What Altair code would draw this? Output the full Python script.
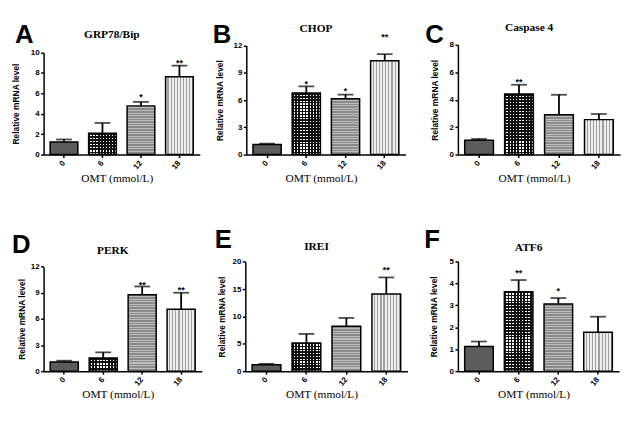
import altair as alt
import pandas as pd

doses = ["0", "6", "12", "18"]
letters = ["A", "B", "C", "D", "E", "F"]
genes = ["GRP78/Bip", "CHOP", "Caspase 4", "PERK", "IREI", "ATF6"]

grp78_mean = [1.23, 2.10, 4.77, 7.62]
grp78_upper = [1.48, 3.10, 5.16, 8.71]
chop_mean = [1.10, 6.77, 6.15, 10.32]
chop_upper = [1.20, 7.50, 6.60, 11.05]
casp4_mean = [1.04, 4.41, 2.91, 2.55]
casp4_upper = [1.14, 5.09, 4.36, 2.96]
perk_mean = [1.06, 1.51, 8.78, 7.12]
perk_upper = [1.20, 2.16, 9.73, 9.01]
ire1_mean = [1.15, 5.17, 8.20, 14.10]
ire1_upper = [1.34, 6.81, 9.73, 17.14]
atf6_mean = [1.12, 3.62, 3.06, 1.77]
atf6_upper = [1.35, 4.15, 3.33, 2.48]

grp78_stars = ["", "", "*", "**"]
chop_stars = ["", "*", "*", "**"]
casp4_stars = ["", "**", "", ""]
perk_stars = ["", "", "**", "**"]
ire1_stars = ["", "", "", "**"]
atf6_stars = ["", "**", "*", ""]

# height (in data units) at which each significance mark sits
grp78_star_y = [None, None, 5.81, 9.13]
chop_star_y = [None, 7.98, 7.21, 13.17]
casp4_star_y = [None, 5.45, None, None]
perk_star_y = [None, None, 10.15, 9.58]
ire1_star_y = [None, None, None, 18.8]
atf6_star_y = [None, 4.58, 3.74, None]

y_max = [10, 12, 8, 12, 20, 5]
y_ticks = [[0, 2, 4, 6, 8, 10], [0, 3, 6, 9, 12], [0, 2, 4, 6, 8],
           [0, 3, 6, 9, 12], [0, 5, 10, 15, 20], [0, 1, 2, 3, 4, 5]]

means = [grp78_mean, chop_mean, casp4_mean, perk_mean, ire1_mean, atf6_mean]
uppers = [grp78_upper, chop_upper, casp4_upper, perk_upper, ire1_upper, atf6_upper]
stars = [grp78_stars, chop_stars, casp4_stars, perk_stars, ire1_stars, atf6_stars]
star_levels = [grp78_star_y, chop_star_y, casp4_star_y, perk_star_y, ire1_star_y, atf6_star_y]

# ---- styling ----
widths = [158, 161, 164, 160, 164, 163]
H = 111
range_top = [7.7, 0.7, 0, 5.4, 0.4, 0]
letter_dx = [-29, -34, -33, -32, -31, -34]
letter_dy = [-23, -23, -23, -29, -35, -35]
title_dy = [-6.5, -12.5, -13.5, -7.3, -11.3, -10.8]
ytitle_pad = [7, 6, 3, 1, 3.5, 3.5]
spacers = {3: (-34, -35)}


def grad(c1, c2, n, duty, vertical):
    n = max(1, int(n))
    stops = []
    for k in range(n):
        a = round(k / n, 4)
        m = round((k + duty) / n, 4)
        b = round((k + 1) / n, 4)
        stops += [alt.GradientStop(offset=a, color=c1), alt.GradientStop(offset=m, color=c1),
                  alt.GradientStop(offset=m, color=c2), alt.GradientStop(offset=b, color=c2)]
    if vertical:
        return alt.LinearGradient(gradient="linear", stops=stops, x1=0, y1=0, x2=1, y2=0)
    return alt.LinearGradient(gradient="linear", stops=stops, x1=0, y1=0, x2=0, y2=1)


def panel(i):
    df = pd.DataFrame({"dose": doses, "mean": means[i], "upper": uppers[i],
                       "star": stars[i], "star_y": star_levels[i]})
    W, ymax, top = widths[i], y_max[i], range_top[i]
    xenc = alt.X("dose:N", sort=doses,
                 scale=alt.Scale(domain=doses, paddingInner=0.28, paddingOuter=0.17),
                 axis=alt.Axis(title="OMT (mmol/L)", labelAngle=-50, labelAlign="right",
                               labelBaseline="middle", labelPadding=4,
                               titleFont="Liberation Serif", titleFontSize=11.5,
                               titleFontWeight="normal", titlePadding=4, titleX=W / 2 - 5,
                               minExtent=14, maxExtent=14))
    yscale = alt.Scale(domain=[0, ymax], range=[H, top], nice=False, zero=True)
    yaxis = alt.Axis(values=y_ticks[i], title="Relative mRNA level",
                     titleFont="Liberation Sans", titleFontSize=8.5, titleFontWeight="bold",
                     titlePadding=ytitle_pad[i], minExtent=16, maxExtent=16, labelPadding=1.5)

    def Y(field):
        return alt.Y(field, scale=yscale, axis=yaxis)

    base = alt.Chart(df)
    layers = []
    bw = 28
    for d, m in zip(doses, means[i]):
        h = m / ymax * (H - top)
        sel = base.transform_filter(alt.datum.dose == d)
        if d == "0":
            layers.append(sel.mark_bar(fill="#5c5c5c", stroke="black", strokeWidth=1.5)
                          .encode(x=xenc, y=Y("mean:Q")))
        elif d == "6":
            layers.append(sel.mark_bar(fill="white").encode(x=xenc, y=Y("mean:Q")))
            layers.append(sel.mark_bar(fill=grad("#111111", "rgba(0,0,0,0)", round(h / 3), 0.55, False))
                          .encode(x=xenc, y=Y("mean:Q")))
            layers.append(sel.mark_bar(fill=grad("#111111", "rgba(0,0,0,0)", bw / 3, 0.55, True),
                                       stroke="black", strokeWidth=1.5)
                          .encode(x=xenc, y=Y("mean:Q")))
        elif d == "12":
            layers.append(sel.mark_bar(fill=grad("#8a8a8a", "#bdbdbd", round(h / 2.6), 0.6, False),
                                       stroke="black", strokeWidth=1.5)
                          .encode(x=xenc, y=Y("mean:Q")))
        else:
            layers.append(sel.mark_bar(fill=grad("#eeeeee", "#a0a0a0", bw / 3, 0.62, True),
                                       stroke="black", strokeWidth=1.5)
                          .encode(x=xenc, y=Y("mean:Q")))

    layers.append(base.mark_rule(color="black", strokeWidth=1.8)
                  .encode(x=xenc, y=Y("mean:Q"), y2="upper:Q"))
    layers.append(base.mark_tick(orient="horizontal", size=16, thickness=1.8, color="black")
                  .encode(x=xenc, y=Y("upper:Q")))
    layers.append(base.transform_filter(alt.datum.star != "")
                  .mark_text(font="Liberation Sans", fontSize=9, fontWeight="bold",
                             baseline="alphabetic", dy=5, color="black")
                  .encode(x=xenc, y=Y("star_y:Q"), text="star:N"))
    layers.append(alt.Chart(pd.DataFrame({"t": [letters[i]]}))
                  .mark_text(align="left", baseline="top", fontSize=26, fontWeight="bold",
                             font="Liberation Sans", color="black")
                  .encode(text="t:N", x=alt.value(letter_dx[i]), y=alt.value(letter_dy[i])))
    layers.append(alt.Chart(pd.DataFrame({"t": [genes[i]]}))
                  .mark_text(align="center", baseline="alphabetic", fontSize=11.5, fontWeight="bold",
                             font="Liberation Serif", color="black")
                  .encode(text="t:N", x=alt.value(W / 2 - 10), y=alt.value(title_dy[i])))
    if i in spacers:
        sx, sy = spacers[i]
        layers.append(alt.Chart(pd.DataFrame({"t": ["."]}))
                      .mark_text(align="left", baseline="top", fontSize=8, opacity=0)
                      .encode(text="t:N", x=alt.value(sx), y=alt.value(sy)))

    return alt.layer(*layers).properties(width=W, height=H)


row1 = alt.hconcat(alt.hconcat(panel(0), panel(1), spacing=11), panel(2), spacing=18)
row2 = alt.hconcat(alt.hconcat(panel(3), panel(4), spacing=11), panel(5), spacing=15)
chart = (alt.vconcat(row1, row2, spacing=42)
         .properties(padding={"left": 1, "top": 11, "right": 5, "bottom": 5})
         .configure_view(stroke="transparent")
         .configure_axis(domainColor="black", domainWidth=1.5, tickColor="black", tickWidth=1.5,
                         tickSize=3, labelColor="black", labelFont="Liberation Sans",
                         labelFontWeight="bold", labelFontSize=8, titleColor="black", grid=False))

chart.save("out.html", embed_options={"renderer": "svg", "actions": False})
